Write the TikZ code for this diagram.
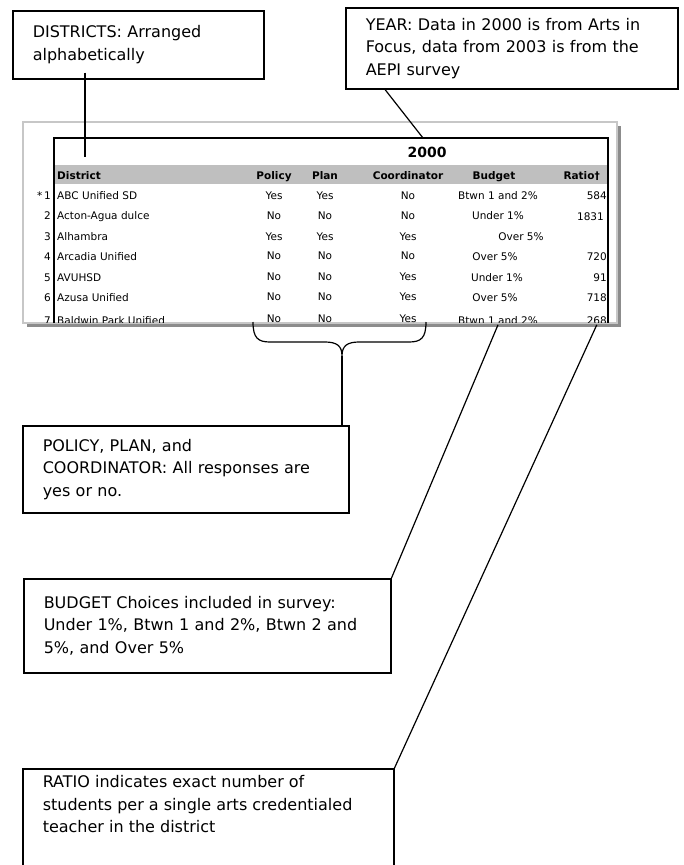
\documentclass[tikz,border=0pt]{standalone}
\usepackage{fontspec}
\setmainfont{DejaVu Sans}
\newcommand{\notefont}{\fontsize{16}{22.5}\selectfont}
\newcommand{\cellfont}{\fontsize{10.5}{12}\selectfont}
\newcommand{\headfont}{\fontsize{10.5}{12}\selectfont\bfseries}
\begin{document}
\begin{tikzpicture}[x=1pt,y=-1pt,
  note/.style={draw, line width=1.5pt, anchor=north west, align=left, inner xsep=20pt, inner ysep=0pt, font=\notefont},
  cell/.style={anchor=base, inner sep=0pt, font=\cellfont},
  head/.style={anchor=base, inner sep=0pt, font=\headfont},
  link/.style={line width=1.2pt}]

\useasboundingbox (0,0) rectangle (683,865);

\node[note, text width=211pt, minimum height=68pt] (note_district) at (12,10) {DISTRICTS: Arranged\\alphabetically};

\node[note, text width=292pt, minimum height=81pt] (note_year) at (345,7) {YEAR: Data in 2000 is from Arts in\\Focus, data from 2003 is from the\\AEPI survey};

\node[note, text width=286pt, minimum height=87pt] (note_policy) at (22,425) {POLICY, PLAN, and\\COORDINATOR: All responses are\\yes or no.};

\node[note, text width=327pt, minimum height=94pt] (note_budget) at (23,578) {BUDGET Choices included in survey:\\Under 1\%, Btwn 1 and 2\%, Btwn 2 and\\5\%, and Over 5\%};

\node[note, inner ysep=7pt] (note_ratio) at (22,768) {\parbox[c][140pt][t]{331pt}{RATIO indicates exact number of\\students per a single arts credentialed\\teacher in the district}};

\fill[black!45] (27,126) rectangle (621,327);
\fill[white] (23,122) rectangle (617,323);
\draw[black!22, line width=2pt] (23,122) rectangle (617,323);

\begin{scope}
\clip (24,123) rectangle (616,322);
\fill[black!25] (54,165) rectangle (608,184);
\draw[line width=2.5pt] (54,330) -- (54,138) -- (608,138) -- (608,330);

\node[inner sep=0pt, anchor=base, font=\fontsize{14}{16}\selectfont\bfseries] (title_year) at (427,157) {2000};

\node[head, anchor=base west] (h_district) at (57,179) {District};
\node[head] (h_policy) at (274,179) {Policy};
\node[head] (h_plan) at (325,179) {Plan};
\node[head] (h_coord) at (408,179) {Coordinator};
\node[head] (h_budget) at (494,179) {Budget};
\node[head, anchor=base east] (h_ratio) at (600,179) {Ratio†};

\node[cell, anchor=base east] (num1) at (51,199) {*\,1};
\node[cell, anchor=base west] (dist1) at (57,199) {ABC Unified SD};
\node[cell] (pol1) at (274,199) {Yes};
\node[cell] (plan1) at (325,199) {Yes};
\node[cell] (coord1) at (408,199) {No};
\node[cell] (bud1) at (498,199) {Btwn 1 and 2\%};
\node[cell, anchor=base east] (rat1) at (607,199) {584};

\node[cell, anchor=base east] (num2) at (51,219.5) {2};
\node[cell, anchor=base west] (dist2) at (57,219.5) {Acton-Agua dulce};
\node[cell] (pol2) at (274,219.5) {No};
\node[cell] (plan2) at (325,219.5) {No};
\node[cell] (coord2) at (408,219.5) {No};
\node[cell] (bud2) at (498,219.5) {Under 1\%};
\node[cell, anchor=base east] (rat2) at (604,220.5) {1831};

\node[cell, anchor=base east] (num3) at (51,240) {3};
\node[cell, anchor=base west] (dist3) at (57,240) {Alhambra};
\node[cell] (pol3) at (274,240) {Yes};
\node[cell] (plan3) at (325,240) {Yes};
\node[cell] (coord3) at (408,240) {Yes};
\node[cell] (bud3) at (521,240) {Over 5\%};

\node[cell, anchor=base east] (num4) at (51,260.5) {4};
\node[cell, anchor=base west] (dist4) at (57,260.5) {Arcadia Unified};
\node[cell] (pol4) at (274,259) {No};
\node[cell] (plan4) at (325,259) {No};
\node[cell] (coord4) at (408,259) {No};
\node[cell] (bud4) at (495,260.5) {Over 5\%};
\node[cell, anchor=base east] (rat4) at (607,260.5) {720};

\node[cell, anchor=base east] (num5) at (51,281) {5};
\node[cell, anchor=base west] (dist5) at (57,281) {AVUHSD};
\node[cell] (pol5) at (274,280) {No};
\node[cell] (plan5) at (325,280) {No};
\node[cell] (coord5) at (408,280) {Yes};
\node[cell] (bud5) at (497,281) {Under 1\%};
\node[cell, anchor=base east] (rat5) at (607,281) {91};

\node[cell, anchor=base east] (num6) at (51,301.5) {6};
\node[cell, anchor=base west] (dist6) at (57,301.5) {Azusa Unified};
\node[cell] (pol6) at (274,300.5) {No};
\node[cell] (plan6) at (325,300.5) {No};
\node[cell] (coord6) at (408,300.5) {Yes};
\node[cell] (bud6) at (495,301.5) {Over 5\%};
\node[cell, anchor=base east] (rat6) at (607,301.5) {718};

\node[cell, anchor=base east] (num7) at (51,324.5) {7};
\node[cell, anchor=base west] (dist7) at (57,324.5) {Baldwin Park Unified};
\node[cell] (pol7) at (274,322) {No};
\node[cell] (plan7) at (325,322) {No};
\node[cell] (coord7) at (408,322) {Yes};
\node[cell] (bud7) at (498,324.5) {Btwn 1 and 2\%};
\node[cell, anchor=base east] (rat7) at (607,324.5) {268};
\end{scope}

\coordinate (district_foot) at (85,157);
\draw[link] (note_district.south -| district_foot) ++(0,-7) -- (district_foot);

\coordinate (year_foot) at (423,138);
\draw[link] (note_year.south west) ++(40,0) -- (year_foot);

\coordinate (brace_tip) at (342,356);
\draw[link] (253,322) .. controls (253,338) and (258,342) .. (270,342) -- (325,342)
  .. controls (337,342) and (342,346) .. (brace_tip)
  .. controls (342,346) and (347,342) .. (359,342) -- (409,342)
  .. controls (421,342) and (426,338) .. (426,322);
\draw[link] (brace_tip) -- (brace_tip |- note_policy.north);

\draw[link] (bud7.south) -- (note_budget.north east);
\draw[link] (rat7.south) -- (note_ratio.north east);

\end{tikzpicture}
\end{document}
